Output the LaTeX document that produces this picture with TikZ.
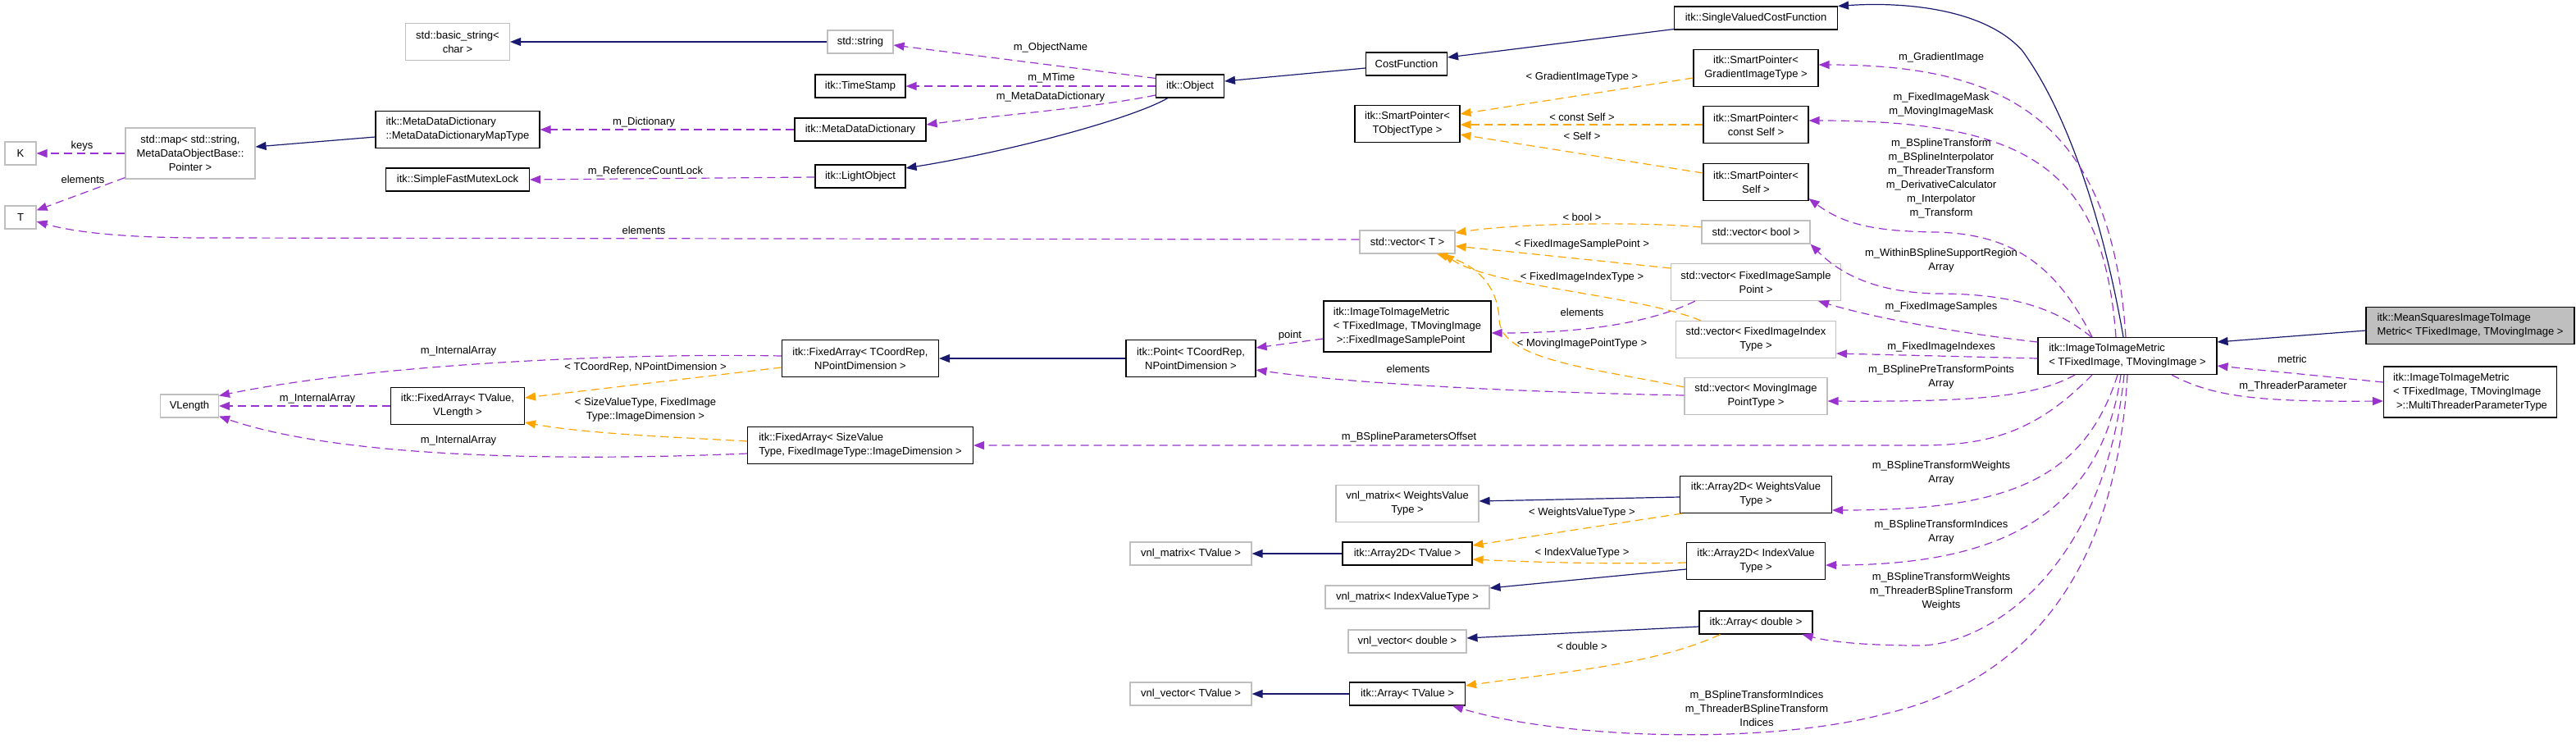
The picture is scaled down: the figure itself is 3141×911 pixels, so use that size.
\documentclass[tikz,border=0pt]{standalone}
\usepackage{fontspec}
\setmainfont{Liberation Sans}
\usetikzlibrary{arrows.meta,calc}
\definecolor{inhc}{HTML}{191970}
\definecolor{usec}{HTML}{9A32CD}
\definecolor{tplc}{HTML}{FFA500}
\definecolor{gbord}{HTML}{BFBFBF}
\definecolor{gfill}{HTML}{BFBFBF}
\begin{document}
\begin{tikzpicture}[x=1pt,y=-1pt,font=\fontsize{13}{17}\selectfont,
  box/.style={draw=black,line width=1.1pt,rectangle,inner sep=0pt,align=center,fill=white},
  gbox/.style={box,draw=gbord},
  lbox/.style={box,align=left},
  inh/.style={draw=inhc,line width=1.2pt,-{Triangle[length=13pt,width=10pt]}},
  use/.style={draw=usec,line width=1.2pt,dash pattern=on 10pt off 6pt,-{Triangle[length=13pt,width=10pt]}},
  tpl/.style={draw=tplc,line width=1.2pt,dash pattern=on 10pt off 6pt,-{Triangle[length=13pt,width=10pt]}},
  lbl/.style={inner sep=0pt,align=center}]
\useasboundingbox (0,0) rectangle (3141,911);
% nodes
\node[gbox,minimum width=127pt,minimum height=45pt] (bstr) at (558,51) {std::basic\_string<\\char >};
\node[gbox,minimum width=80pt,minimum height=28pt] (stdstring) at (1049,51) {std::string};
\node[box,minimum width=110pt,minimum height=28pt] (timestamp) at (1049,105) {itk::TimeStamp};
\node[box,minimum width=160pt,minimum height=28pt] (mdd) at (1049,158) {itk::MetaDataDictionary};
\node[box,minimum width=110pt,minimum height=28pt] (lightobj) at (1049,215) {itk::LightObject};
\node[box,minimum width=83pt,minimum height=28pt] (object) at (1451,105) {itk::Object};
\node[box,minimum width=99pt,minimum height=28pt] (costfn) at (1715,78) {CostFunction};
\node[box,minimum width=199pt,minimum height=28pt] (svcf) at (2141,22) {itk::SingleValuedCostFunction};
\node[lbox,minimum width=200pt,minimum height=45pt] (mddmap) at (558,158) {itk::MetaDataDictionary\\::MetaDataDictionaryMapType};
\node[box,minimum width=175pt,minimum height=28pt] (sfml) at (558,219) {itk::SimpleFastMutexLock};
\node[gbox,minimum width=158pt,minimum height=62pt] (stdmap) at (232,187) {std::map< std::string,\\MetaDataObjectBase::\\Pointer >};
\node[gbox,minimum width=38pt,minimum height=28pt] (K) at (25,187) {K};
\node[gbox,minimum width=38pt,minimum height=28pt] (T) at (25,265) {T};
\node[box,minimum width=152pt,minimum height=45pt] (spgit) at (2141,83) {itk::SmartPointer<\\GradientImageType >};
\node[box,minimum width=128pt,minimum height=45pt] (spto) at (1716,151) {itk::SmartPointer<\\TObjectType >};
\node[box,minimum width=128pt,minimum height=45pt] (spcs) at (2141,152) {itk::SmartPointer<\\const Self >};
\node[box,minimum width=128pt,minimum height=45pt] (sps) at (2141,222) {itk::SmartPointer<\\Self >};
\node[gbox,minimum width=132pt,minimum height=28pt] (vbool) at (2141,283) {std::vector< bool >};
\node[gbox,minimum width=116pt,minimum height=28pt] (vT) at (1716,295) {std::vector< T >};
\node[gbox,minimum width=207pt,minimum height=45pt] (vfisp) at (2141,344) {std::vector< FixedImageSample\\Point >};
\node[gbox,minimum width=195pt,minimum height=45pt] (vfiit) at (2141,414) {std::vector< FixedImageIndex\\Type >};
\node[lbox,minimum width=204pt,minimum height=62pt] (fisp) at (1716,398) {itk::ImageToImageMetric\\< TFixedImage, TMovingImage\\\hspace*{4pt}>::FixedImageSamplePoint};
\node[gbox,minimum width=174pt,minimum height=45pt] (vmipt) at (2141,483) {std::vector< MovingImage\\PointType >};
\node[box,minimum width=191pt,minimum height=45pt] (fatc) at (1049,437) {itk::FixedArray< TCoordRep,\\NPointDimension >};
\node[box,minimum width=158pt,minimum height=45pt] (point) at (1452,437) {itk::Point< TCoordRep,\\NPointDimension >};
\node[lbox,minimum width=275pt,minimum height=45pt] (fasv) at (1049,543) {itk::FixedArray< SizeValue\\Type, FixedImageType::ImageDimension >};
\node[gbox,minimum width=71pt,minimum height=28pt] (vlength) at (231,495) {VLength};
\node[box,minimum width=163pt,minimum height=45pt] (fatv) at (558,495) {itk::FixedArray< TValue,\\VLength >};
\node[lbox,minimum width=218pt,minimum height=45pt] (i2im) at (2594,434) {itk::ImageToImageMetric\\< TFixedImage, TMovingImage >};
\node[lbox,fill=gfill,minimum width=254pt,minimum height=45pt] (mean) at (3012,397) {itk::MeanSquaresImageToImage\\Metric< TFixedImage, TMovingImage >};
\node[lbox,minimum width=211pt,minimum height=62pt] (mtpt) at (3012,478) {itk::ImageToImageMetric\\< TFixedImage, TMovingImage\\\hspace*{4pt}>::MultiThreaderParameterType};
\node[gbox,minimum width=174pt,minimum height=45pt] (vnlmwvt) at (1716,614) {vnl\_matrix< WeightsValue\\Type >};
\node[box,minimum width=185pt,minimum height=45pt] (a2dwvt) at (2141,603) {itk::Array2D< WeightsValue\\Type >};
\node[box,minimum width=158pt,minimum height=28pt] (a2dtv) at (1716,675) {itk::Array2D< TValue >};
\node[gbox,minimum width=148pt,minimum height=28pt] (vnlmtv) at (1452,675) {vnl\_matrix< TValue >};
\node[gbox,minimum width=200pt,minimum height=28pt] (vnlmivt) at (1716,728) {vnl\_matrix< IndexValueType >};
\node[box,minimum width=169pt,minimum height=45pt] (a2divt) at (2141,684) {itk::Array2D< IndexValue\\Type >};
\node[box,minimum width=138pt,minimum height=28pt] (adbl) at (2141,759) {itk::Array< double >};
\node[gbox,minimum width=144pt,minimum height=28pt] (vnlvdbl) at (1716,782) {vnl\_vector< double >};
\node[box,minimum width=141pt,minimum height=28pt] (atv) at (1716,846) {itk::Array< TValue >};
\node[gbox,minimum width=148pt,minimum height=28pt] (vnlvtv) at (1452,846) {vnl\_vector< TValue >};
% inheritance
\draw[inh] (stdstring.west) -- (bstr.east);
\draw[inh] ($(mddmap.west)+(0,9)$) -- ($(stdmap.east)+(0,-8)$);
\draw[inh] ($(object.south)+(-27,0)$) .. controls (1380,145) and (1230,185) .. ($(lightobj.east)+(0,-10)$);
\draw[inh] ($(costfn.west)+(0,5)$) -- ($(object.east)+(0,-6)$);
\draw[inh] ($(svcf.south west)+(0,-1)$) -- ($(costfn.east)+(0,-8)$);
\draw[inh] ($(i2im.north)+(-5,0)$) .. controls (2570,300) and (2530,150) .. (2466,62) .. controls (2420,10) and (2320,2) .. (svcf.north east);
\draw[inh] ($(mean.west)+(0,6)$) -- ($(i2im.east)+(0,-17)$);
\draw[inh] (point.west) -- (fatc.east);
\draw[inh] ($(a2dwvt.west)+(0,3)$) -- ($(vnlmwvt.east)+(0,-3)$);
\draw[inh] (a2dtv.west) -- (vnlmtv.east);
\draw[inh] ($(a2divt.west)+(0,10)$) -- ($(vnlmivt.east)+(0,-11)$);
\draw[inh] ($(adbl.west)+(0,5)$) -- ($(vnlvdbl.east)+(0,-4)$);
\draw[inh] (atv.west) -- (vnlvtv.east);
% usage
\draw[use] (stdmap.west) -- (K.east);
\node[lbl] (l1) at (100,178) {keys};
\draw[use] ($(stdmap.south west)+(0,-2)$) -- ($(T.north east)+(0,6)$);
\node[lbl] (l2) at (101,219) {elements};
\draw[use] (mdd.west) -- (mddmap.east);
\node[lbl] (l3) at (785,149) {m\_Dictionary};
\draw[use] ($(lightobj.west)+(0,1)$) -- (sfml.east);
\node[lbl] (l4) at (787,209) {m\_ReferenceCountLock};
\draw[use] ($(object.north west)+(0,5)$) -- ($(stdstring.east)+(0,4)$);
\node[lbl] (l5) at (1281,58) {m\_ObjectName};
\draw[use] (object.west) -- (timestamp.east);
\node[lbl] (l6) at (1282,95) {m\_MTime};
\draw[use] ($(object.west)+(0,11)$) .. controls (1330,132) and (1220,140) .. ($(mdd.east)+(0,-6)$);
\node[lbl] (l7) at (1281,118) {m\_MetaDataDictionary};
\draw[use] ($(vT.west)+(0,-3)$) -- (250,290) .. controls (150,290) and (90,283) .. ($(T.east)+(0,5)$);
\node[lbl] (l8) at (785,281) {elements};
\draw[use] ($(i2im.north)+(-2,0)$) .. controls (2575,150) and (2450,79) .. ($(spgit.east)+(0,-4)$);
\node[lbl] (l9) at (2367,70) {m\_GradientImage};
\draw[use] ($(i2im.north)+(-14,0)$) .. controls (2565,210) and (2480,147) .. ($(spcs.east)+(0,-5)$);
\node[lbl] (l10) at (2367,128) {m\_FixedImageMask\\m\_MovingImageMask};
\draw[use] ($(i2im.north)+(-43,0)$) .. controls (2510,330) and (2460,285) .. (2360,283) .. controls (2290,282) and (2250,275) .. ($(sps.south east)+(0,-3)$);
\node[lbl] (l11) at (2367,218) {m\_BSplineTransform\\m\_BSplineInterpolator\\m\_ThreaderTransform\\m\_DerivativeCalculator\\m\_Interpolator\\m\_Transform};
\draw[use] ($(i2im.north)+(-44,0)$) .. controls (2500,370) and (2440,358) .. (2360,358) .. controls (2280,356) and (2240,330) .. (vbool.south east);
\node[lbl] (l12) at (2367,318) {m\_WithinBSplineSupportRegion\\Array};
\draw[use] ($(i2im.west)+(0,-17)$) .. controls (2420,410) and (2300,392) .. ($(vfisp.south east)+(-28,0)$);
\node[lbl] (l13) at (2367,374) {m\_FixedImageSamples};
\draw[use] ($(i2im.west)+(0,3)$) -- ($(vfiit.east)+(0,17)$);
\node[lbl] (l14) at (2367,423) {m\_FixedImageIndexes};
\draw[use] ($(i2im.south)+(-64,0)$) .. controls (2480,485) and (2400,490) .. ($(vmipt.east)+(0,6)$);
\node[lbl] (l15) at (2367,460) {m\_BSplinePreTransformPoints\\Array};
\draw[use] ($(i2im.south)+(-43,0)$) .. controls (2480,530) and (2420,543) .. (2340,543) -- (fasv.east);
\node[lbl] (l16) at (1718,533) {m\_BSplineParametersOffset};
\draw[use] ($(i2im.south)+(-12,0)$) .. controls (2540,590) and (2440,622) .. ($(a2dwvt.east)+(0,19)$);
\node[lbl] (l17) at (2367,577) {m\_BSplineTransformWeights\\Array};
\draw[use] ($(i2im.south)+(-8,0)$) .. controls (2560,640) and (2420,689) .. ($(a2divt.east)+(0,5)$);
\node[lbl] (l18) at (2367,649) {m\_BSplineTransformIndices\\Array};
\draw[use] ($(i2im.south)+(-4,0)$) .. controls (2565,700) and (2420,787) .. (2340,787) .. controls (2270,787) and (2230,782) .. ($(adbl.south east)+(-13,0)$);
\node[lbl] (l19) at (2367,721) {m\_BSplineTransformWeights\\m\_ThreaderBSplineTransform\\Weights};
\draw[use] (i2im.south) .. controls (2580,700) and (2470,830) .. (2300,870) .. controls (2150,910) and (1900,900) .. ($(atv.south east)+(-16,0)$);
\node[lbl] (l20) at (2142,864) {m\_BSplineTransformIndices\\m\_ThreaderBSplineTransform\\Indices};
\draw[use] ($(mtpt.west)+(0,-12)$) -- ($(i2im.east)+(0,12)$);
\node[lbl] (l21) at (2795,438) {metric};
\draw[use] ($(i2im.south)+(54,0)$) .. controls (2700,485) and (2760,490) .. ($(mtpt.west)+(0,11)$);
\node[lbl] (l22) at (2796,471) {m\_ThreaderParameter};
\draw[use] ($(fisp.west)+(0,15)$) -- ($(point.east)+(0,-13)$);
\node[lbl] (l23) at (1573,409) {point};
\draw[use] ($(vfisp.south west)+(30,0)$) .. controls (2000,400) and (1900,406) .. ($(fisp.east)+(0,8)$);
\node[lbl] (l24) at (1929,381) {elements};
\draw[use] ($(vmipt.west)+(0,-1)$) .. controls (1850,478) and (1650,468) .. ($(point.east)+(0,14)$);
\node[lbl] (l25) at (1717,450) {elements};
\draw[use] ($(fatc.west)+(0,-3)$) .. controls (750,430) and (450,445) .. ($(vlength.north east)+(0,2)$);
\node[lbl] (l26) at (559,428) {m\_InternalArray};
\draw[use] (fatv.west) -- (vlength.east);
\node[lbl] (l27) at (387,486) {m\_InternalArray};
\draw[use] ($(fasv.west)+(0,10)$) .. controls (700,562) and (420,560) .. ($(vlength.south east)+(0,-2)$);
\node[lbl] (l28) at (559,537) {m\_InternalArray};
% templates
\draw[tpl] ($(fatc.west)+(0,11)$) -- ($(fatv.east)+(0,-10)$);
\node[lbl] (t1) at (787,448) {< TCoordRep, NPointDimension >};
\draw[tpl] ($(fasv.west)+(0,-5)$) .. controls (850,534) and (720,530) .. ($(fatv.east)+(0,20)$);
\node[lbl] (t2) at (787,500) {< SizeValueType, FixedImage\\Type::ImageDimension >};
\draw[tpl] ($(spgit.west)+(0,12)$) -- ($(spto.east)+(0,-12)$);
\node[lbl] (t3) at (1929,94) {< GradientImageType >};
\draw[tpl] (spcs.west) -- ($(spto.east)+(0,1)$);
\node[lbl] (t4) at (1929,143) {< const Self >};
\draw[tpl] ($(sps.west)+(0,-11)$) -- ($(spto.east)+(0,13)$);
\node[lbl] (t5) at (1929,166) {< Self >};
\draw[tpl] ($(vbool.west)+(0,-6)$) .. controls (2000,270) and (1850,272) .. ($(vT.east)+(0,-11)$);
\node[lbl] (t6) at (1929,265) {< bool >};
\draw[tpl] ($(vfisp.west)+(0,-17)$) -- ($(vT.east)+(0,5)$);
\node[lbl] (t7) at (1929,298) {< FixedImageSamplePoint >};
\draw[tpl] ($(vfiit.north west)+(31,0)$) .. controls (2000,360) and (1820,350) .. ($(vT.south)+(44,0)$);
\node[lbl] (t8) at (1929,338) {< FixedImageIndexType >};
\draw[tpl] ($(vmipt.west)+(0,-11)$) .. controls (1950,450) and (1830,440) .. (1828,390) .. controls (1826,340) and (1790,320) .. ($(vT.south)+(36,0)$);
\node[lbl] (t9) at (1929,419) {< MovingImagePointType >};
\draw[tpl] ($(a2dwvt.south west)+(3,0)$) -- ($(a2dtv.east)+(0,-10)$);
\node[lbl] (t10) at (1929,625) {< WeightsValueType >};
\draw[tpl] ($(a2divt.west)+(0,2)$) .. controls (1980,688) and (1880,686) .. ($(a2dtv.east)+(0,7)$);
\node[lbl] (t11) at (1929,674) {< IndexValueType >};
\draw[tpl] ($(adbl.south west)+(26,0)$) .. controls (2020,810) and (1900,820) .. ($(atv.east)+(0,-10)$);
\node[lbl] (t12) at (1929,788) {< double >};
\end{tikzpicture}
\end{document}
